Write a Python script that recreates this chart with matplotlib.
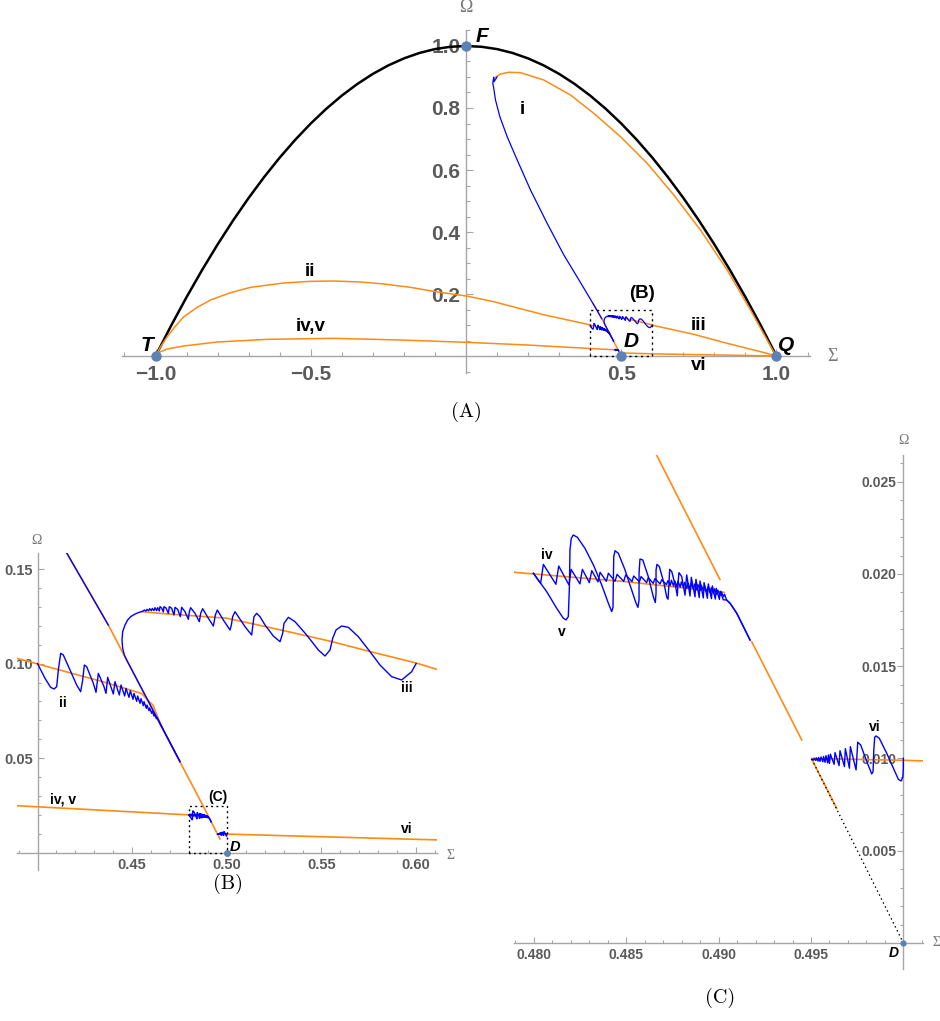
import matplotlib
matplotlib.use("Agg")
import numpy as np
import matplotlib.pyplot as plt

# ---------------- data ----------------
black_sigma = [-1.00, -0.95, -0.90, -0.85, -0.80, -0.75, -0.70, -0.65, -0.60, -0.55, -0.50,
               -0.45, -0.40, -0.35, -0.30, -0.25, -0.20, -0.15, -0.10, -0.05, 0.00,
               0.05, 0.10, 0.15, 0.20, 0.25, 0.30, 0.35, 0.40, 0.45, 0.50,
               0.55, 0.60, 0.65, 0.70, 0.75, 0.80, 0.85, 0.90, 0.95, 1.00]
black_omega = [0.0, 0.0975, 0.19, 0.2775, 0.36, 0.4375, 0.51, 0.5775, 0.64, 0.6975, 0.75,
               0.7975, 0.84, 0.8775, 0.91, 0.9375, 0.96, 0.9775, 0.99, 0.9975, 1.0,
               0.9975, 0.99, 0.9775, 0.96, 0.9375, 0.91, 0.8775, 0.84, 0.7975, 0.75,
               0.6975, 0.64, 0.5775, 0.51, 0.4375, 0.36, 0.2775, 0.19, 0.0975, 0.0]

orange_i = [(0.0950, 0.8990), (0.1111, 0.9097), (0.1379, 0.9152), (0.1755, 0.9140), (0.2506, 0.8903),
            (0.3366, 0.8419), (0.4116, 0.7828), (0.4976, 0.7075), (0.5836, 0.6215), (0.6693, 0.5194),
            (0.7552, 0.4065), (0.8412, 0.2774), (0.9163, 0.1484), (0.9968, 0.0032), (1.0, 0.0)]

orange_ii = [(-1.0, 0.0), (-0.9839, 0.0300), (-0.9623, 0.0623), (-0.9356, 0.0968), (-0.9089, 0.1268),
             (-0.8657, 0.1570), (-0.8229, 0.1806), (-0.7585, 0.2043), (-0.6940, 0.2215), (-0.5868, 0.2355),
             (-0.5008, 0.2409), (-0.4258, 0.2419), (-0.3398, 0.2387), (-0.2647, 0.2323), (-0.1787, 0.2215),
             (-0.1037, 0.2085), (0.0039, 0.1930), (0.0895, 0.1752), (0.2506, 0.1330), (0.3890, 0.1028),
             (0.4001, 0.0998), (0.4374, 0.0896), (0.4550, 0.0842), (0.4610, 0.0780), (0.4655, 0.0668)]

orange_iii = [(0.4550, 0.1275), (0.4628, 0.1267), (0.5000, 0.1240), (0.5280, 0.1179), (0.5552, 0.1117),
              (0.5755, 0.1064), (0.6001, 0.1003), (0.6115, 0.0968), (0.7337, 0.0700), (0.8412, 0.0409),
              (0.9485, 0.0140), (1.0, 0.0)]

orange_iv_v = [(-1.0, 0.0), (-0.9839, 0.0140), (-0.9623, 0.0226), (-0.9089, 0.0323), (-0.8013, 0.0452),
               (-0.6403, 0.0538), (-0.4258, 0.0570), (-0.2110, 0.0516), (0.0039, 0.0441), (0.1971, 0.0355),
               (0.3890, 0.0249), (0.4788, 0.0201), (0.4850, 0.01958), (0.4903, 0.0190)]

orange_vi = [(0.49504, 0.0100), (0.5000, 0.0099), (0.5281, 0.0091), (0.6118, 0.0068), (1.0, 0.0)]

nan = float("nan")
orange_steep = [(0.4100, 0.1679), (0.4153, 0.1587), (0.4374, 0.1204), (0.4646, 0.0683), (0.48665, 0.02642),
                (0.49007, 0.01970), (nan, nan), (0.49179, 0.01633), (0.49450, 0.01100), (nan, nan),
                (0.49504, 0.00996), (0.49639, 0.00730)]

blue_i = [(0.1000, 0.9000), (0.0905, 0.8850), (0.0895, 0.8990), (0.0870, 0.8860), (0.0864, 0.8780),
          (0.0886, 0.8688), (0.0950, 0.8258), (0.1090, 0.7720), (0.1326, 0.7075), (0.1649, 0.6323),
          (0.2077, 0.5355), (0.2614, 0.4280), (0.3150, 0.3260), (0.3688, 0.2370), (0.4153, 0.1587),
          (0.4374, 0.1204)]

blue_ii = [(0.4000, 0.1000), (0.40396, 0.09221), (0.40696, 0.08745), (0.40872, 0.08657), (0.41013, 0.08781),
           (0.41101, 0.09662), (0.41224, 0.10543), (0.41365, 0.10454), (0.41717, 0.09662), (0.42069, 0.08869),
           (0.42280, 0.08516), (0.42386, 0.09133), (0.42474, 0.09926), (0.42597, 0.09838), (0.42950, 0.08957),
           (0.43090, 0.08481), (0.43214, 0.09485), (0.43513, 0.08781), (0.43619, 0.08428), (0.43707, 0.09274),
           (0.44006, 0.08393), (0.44094, 0.09045), (0.44323, 0.08340), (0.44411, 0.08869), (0.44605, 0.08287),
           (0.44675, 0.08693), (0.44834, 0.08217), (0.44904, 0.08569), (0.45045, 0.08111), (0.45098, 0.08428),
           (0.45239, 0.08006), (0.45292, 0.08287), (0.45415, 0.07900), (0.45468, 0.08146), (0.45591, 0.07777),
           (0.45626, 0.07988), (0.45749, 0.07636), (0.45785, 0.07812), (0.45890, 0.07512), (0.45925, 0.07653),
           (0.46031, 0.07371), (0.46066, 0.07495), (0.46154, 0.07230), (0.46190, 0.07318), (0.46278, 0.07089),
           (0.46313, 0.07160), (0.46471, 0.06843), (0.47528, 0.04817)]

blue_iii = [(0.6000, 0.1000), (0.59766, 0.09573), (0.59238, 0.09133), (0.58710, 0.09309), (0.58093, 0.09926),
            (0.57565, 0.10631), (0.56949, 0.11423), (0.56420, 0.11917), (0.56068, 0.11987), (0.55769, 0.11776),
            (0.55593, 0.11335), (0.55452, 0.10719), (0.55188, 0.10402), (0.54836, 0.10719), (0.54219, 0.11512),
            (0.53603, 0.12216), (0.53251, 0.12445), (0.53022, 0.12128), (0.52951, 0.11600), (0.52811, 0.11159),
            (0.52458, 0.11459), (0.52018, 0.12040), (0.51754, 0.12481), (0.51578, 0.12657), (0.51437, 0.12481),
            (0.51367, 0.11952), (0.51314, 0.11512), (0.50962, 0.11952), (0.50609, 0.12481), (0.50433, 0.12745),
            (0.50310, 0.12481), (0.50240, 0.12040), (0.50169, 0.11776), (0.49817, 0.12304), (0.49500, 0.12833),
            (0.49394, 0.12569), (0.49324, 0.12163), (0.49289, 0.11987), (0.48972, 0.12481), (0.48725, 0.12903),
            (0.48620, 0.12657), (0.48549, 0.12216), (0.48320, 0.12657), (0.48091, 0.12956), (0.48021, 0.12745),
            (0.47968, 0.12340), (0.47792, 0.12745), (0.47616, 0.12974), (0.47546, 0.12481), (0.47405, 0.12868),
            (0.47264, 0.12974), (0.47211, 0.12569), (0.47088, 0.12921), (0.46964, 0.13009), (0.46912, 0.12657),
            (0.46788, 0.12939), (0.46683, 0.13009), (0.46647, 0.12727), (0.46559, 0.12939), (0.46471, 0.13009),
            (0.46436, 0.12780), (0.46348, 0.12956), (0.46295, 0.12798), (0.46207, 0.12956), (0.46154, 0.12798),
            (0.46066, 0.12921), (0.46014, 0.12798), (0.45925, 0.12903), (0.45873, 0.12798), (0.45785, 0.12868),
            (0.45732, 0.12780), (0.45644, 0.12833), (0.45556, 0.12762), (0.45415, 0.12727), (0.45151, 0.12621),
            (0.44922, 0.12481), (0.44763, 0.12304), (0.44622, 0.12040), (0.44499, 0.11688), (0.44464, 0.11247),
            (0.44499, 0.10807), (0.44587, 0.10454), (0.44710, 0.10190), (0.44851, 0.09926), (0.47528, 0.04817)]

blue_iv = [(0.47997, 0.02004), (0.48036, 0.01949), (0.48051, 0.02052), (0.48119, 0.01944), (0.48134, 0.02043),
           (0.48190, 0.01940), (0.48201, 0.02025), (0.48249, 0.01946), (0.48262, 0.02025), (0.48300, 0.01953),
           (0.48313, 0.02018), (0.48347, 0.01957), (0.48358, 0.02009), (0.48392, 0.01960), (0.48403, 0.02004),
           (0.48439, 0.01960), (0.48450, 0.01998), (0.48486, 0.01960), (0.48497, 0.01995), (0.48531, 0.01959),
           (0.48540, 0.01989), (0.48571, 0.01957), (0.48580, 0.01986), (0.48610, 0.01953), (0.48619, 0.01980),
           (0.48646, 0.01949), (0.48655, 0.01975), (0.48683, 0.01946), (0.48692, 0.01969), (0.48717, 0.01942),
           (0.48726, 0.01964), (0.48738, 0.01937), (0.48744, 0.01966), (0.48756, 0.01934), (0.48762, 0.01963),
           (0.48774, 0.01931), (0.48780, 0.01960), (0.48792, 0.01928), (0.48798, 0.01957), (0.48810, 0.01925),
           (0.48816, 0.01954), (0.48828, 0.01922), (0.48834, 0.01951), (0.48846, 0.01919), (0.48852, 0.01948),
           (0.48864, 0.01916), (0.48870, 0.01945), (0.48882, 0.01913), (0.48888, 0.01942), (0.48900, 0.01910),
           (0.48906, 0.01939), (0.48918, 0.01906), (0.48924, 0.01935), (0.48936, 0.01902), (0.48942, 0.01930),
           (0.48954, 0.01898), (0.48960, 0.01925), (0.48972, 0.01894), (0.48978, 0.01919), (0.48990, 0.01889),
           (0.48996, 0.01912), (0.49008, 0.01884), (0.49014, 0.01904), (0.49026, 0.01877), (0.49032, 0.01890),
           (0.49043, 0.01859), (0.49062, 0.01841), (0.49098, 0.01787), (0.49170, 0.01642)]

blue_v = [(0.47997, 0.02004), (0.48069, 0.01904), (0.48123, 0.01814), (0.48159, 0.01760), (0.48174, 0.01751),
          (0.48186, 0.01769), (0.48192, 0.01931), (0.48195, 0.02130), (0.48202, 0.02193), (0.48213, 0.02211),
          (0.48235, 0.02199), (0.48276, 0.02139), (0.48322, 0.02049), (0.48367, 0.01940), (0.48403, 0.01841),
          (0.48421, 0.01796), (0.48428, 0.01819), (0.48430, 0.01968), (0.48432, 0.02094), (0.48439, 0.02126),
          (0.48457, 0.02112), (0.48493, 0.02022), (0.48529, 0.01913), (0.48553, 0.01841), (0.48563, 0.01819),
          (0.48569, 0.01859), (0.48569, 0.02004), (0.48574, 0.02081), (0.48589, 0.02076), (0.48619, 0.01986),
          (0.48646, 0.01877), (0.48657, 0.01845), (0.48661, 0.01895), (0.48661, 0.02022), (0.48666, 0.02052),
          (0.48679, 0.02040), (0.48704, 0.01949), (0.48719, 0.01874), (0.48726, 0.01863), (0.48730, 0.01931),
          (0.48735, 0.02025), (0.48746, 0.02013), (0.48767, 0.01931), (0.48776, 0.01881), (0.48780, 0.01949),
          (0.48785, 0.02007), (0.48800, 0.01986), (0.48818, 0.01885), (0.48827, 0.01995), (0.48845, 0.01880),
          (0.48852, 0.01982), (0.48872, 0.01876), (0.48877, 0.01971), (0.48895, 0.01872), (0.48899, 0.01962),
          (0.48917, 0.01870), (0.48921, 0.01953), (0.48939, 0.01868), (0.48944, 0.01946), (0.48961, 0.01866),
          (0.48966, 0.01935), (0.48982, 0.01864), (0.48987, 0.01922), (0.49004, 0.01862), (0.49009, 0.01906),
          (0.49025, 0.01860), (0.49043, 0.01859), (0.49062, 0.01841), (0.49098, 0.01787), (0.49170, 0.01642)]

blue_vi = [(0.49504, 0.00996), (0.49514, 0.00991), (0.49517, 0.01001), (0.49526, 0.00989), (0.49529, 0.01003),
           (0.49538, 0.00986), (0.49541, 0.01005), (0.49549, 0.00984), (0.49554, 0.01008), (0.49564, 0.00982),
           (0.49568, 0.01011), (0.49576, 0.00979), (0.49581, 0.01015), (0.49590, 0.00976), (0.49594, 0.01019),
           (0.49600, 0.00973), (0.49605, 0.01023), (0.49625, 0.00968), (0.49630, 0.01032), (0.49652, 0.00961),
           (0.49657, 0.01042), (0.49681, 0.00956), (0.49686, 0.01053), (0.49708, 0.00947), (0.49713, 0.01064),
           (0.49744, 0.00938), (0.49753, 0.01088), (0.49769, 0.01073), (0.49802, 0.00983), (0.49829, 0.00916),
           (0.49836, 0.00929), (0.49840, 0.01046), (0.49845, 0.01115), (0.49852, 0.01122), (0.49870, 0.01109),
           (0.49910, 0.01028), (0.49950, 0.00938), (0.49973, 0.00887), (0.49988, 0.00878), (0.49997, 0.00898),
           (0.50000, 0.00947), (0.50000, 0.01001)]

dotted_to_D = [(0.49504, 0.00996), (0.5, 0.0)]
box_B = [(0.4, 0.0), (0.4, 0.15), (0.6, 0.15), (0.6, 0.0), (0.4, 0.0)]
box_C = [(0.48, 0.0), (0.48, 0.025), (0.50, 0.025), (0.50, 0.0), (0.48, 0.0)]

point_names = ["T", "F", "Q", "D"]
point_sigma = [-1.0, 0.0, 1.0, 0.5]
point_omega = [0.0, 1.0, 0.0, 0.0]

# tick values / labels
A_xticks = [-1.0, -0.5, 0.5, 1.0]
A_xlabels = ["\u22121.0", "\u22120.5", "0.5", "1.0"]
A_yticks = [0.2, 0.4, 0.6, 0.8, 1.0]
A_ylabels = ["0.2", "0.4", "0.6", "0.8", "1.0"]
B_xticks = [0.45, 0.50, 0.55, 0.60]
B_xlabels = ["0.45", "0.50", "0.55", "0.60"]
B_yticks = [0.05, 0.10, 0.15]
B_ylabels = ["0.05", "0.10", "0.15"]
C_xticks = [0.480, 0.485, 0.490, 0.495]
C_xlabels = ["0.480", "0.485", "0.490", "0.495"]
C_yticks = [0.005, 0.010, 0.015, 0.020, 0.025]
C_ylabels = ["0.005", "0.010", "0.015", "0.020", "0.025"]

# ---------------- style ----------------
ORANGE = "#FF8A14"
BLUE = "#0000FF"
DOT = "#5E81B5"
AXIS_GRAY = "#A6A6A6"
LABEL_GRAY = "#5A5A5A"
SANS = "Liberation Sans"

fig = plt.figure(figsize=(9.4, 10.21), dpi=100)
fig.patch.set_facecolor("white")
W, H = 940.0, 1021.0


def rect_px(x0, y0, x1, y1):
    return [x0 / W, 1 - y1 / H, (x1 - x0) / W, (y1 - y0) / H]


def minors(lo, hi, step, exclude):
    vals = np.round(np.arange(lo, hi + step / 2, step), 6)
    ex = set(np.round(exclude, 6))
    return [v for v in vals if v not in ex]


def setup(ax, xlim, ylim, x0, xt, xl, yt, yl, xmin, ymin, fs, ydir, xpad, ypad, maj, mnr):
    ax.set_xlim(*xlim)
    ax.set_ylim(*ylim)
    ax.patch.set_visible(False)
    for s in ("top", "right"):
        ax.spines[s].set_visible(False)
    ax.spines["left"].set_position(("data", x0))
    ax.spines["bottom"].set_position(("data", 0.0))
    for s in ("left", "bottom"):
        ax.spines[s].set_color(AXIS_GRAY)
        ax.spines[s].set_linewidth(1.0)
        ax.spines[s].set_zorder(1)
    ax.set_xticks(xt)
    ax.set_xticklabels(xl, fontweight="bold", fontsize=fs, family=SANS, color=LABEL_GRAY)
    ax.set_yticks(yt)
    ax.set_yticklabels(yl, fontweight="bold", fontsize=fs, family=SANS, color=LABEL_GRAY)
    ax.set_xticks(xmin, minor=True)
    ax.set_yticks(ymin, minor=True)
    ax.tick_params(axis="x", which="both", direction="in", color=AXIS_GRAY, width=0.8, pad=xpad)
    ax.tick_params(axis="y", which="both", direction=ydir, color=AXIS_GRAY, width=0.8, pad=ypad)
    ax.tick_params(which="major", length=maj)
    ax.tick_params(which="minor", length=mnr)


def draw_all(ax, lw_o, lw_b, lw_k, ms):
    ax.plot(black_sigma, black_omega, color="black", lw=lw_k, zorder=3)
    for pts in (orange_i, orange_ii, orange_iii, orange_iv_v, orange_vi, orange_steep):
        s, o = zip(*pts)
        ax.plot(s, o, color=ORANGE, lw=lw_o, zorder=3)
    for pts in (blue_i, blue_ii, blue_iii, blue_iv, blue_v, blue_vi):
        s, o = zip(*pts)
        ax.plot(s, o, color=BLUE, lw=lw_b, zorder=4)
    ax.plot(point_sigma, point_omega, "o", color=DOT, ms=ms, zorder=6, mec="none")


# ---------------- Panel A ----------------
axA = fig.add_axes(rect_px(122, 30, 810, 373))
setup(axA, (-1.108, 1.108), (-0.0548, 1.0516), 0.0, A_xticks, A_xlabels, A_yticks, A_ylabels,
      minors(-1.1, 1.1, 0.1, A_xticks + [0.0]), minors(-0.05, 1.05, 0.05, A_yticks + [0.0]),
      15, "in", 6.5, 4, 5, 3)
draw_all(axA, 1.1, 0.9, 1.8, 7.5)
s, o = zip(*box_B)
axA.plot(s, o, color="black", lw=1.0, ls=(0, (1.6, 2.6)), zorder=5)
for name, x, y in zip(point_names, [-1.027, 0.052, 1.032, 0.532], [0.035, 1.03, 0.035, 0.046]):
    axA.text(x, y, name, fontsize=15, fontweight="bold", fontstyle="italic", family=SANS,
             ha="center", va="center", zorder=7)
for lab, x, y in (("i", 0.181, 0.794), ("ii", -0.501, 0.272), ("iv,v", -0.501, 0.0945),
                  ("iii", 0.750, 0.100), ("vi", 0.750, -0.029), ("(B)", 0.5675, 0.2023)):
    axA.text(x, y, lab, fontsize=13.5, fontweight="bold", family=SANS, ha="center", va="center", zorder=7)
axA.text(0.0, 1.1226, "\u03a9", fontsize=13, color="#777777", family="Liberation Serif",
         ha="center", va="center", clip_on=False)
axA.text(1.180, 0.0, "\u03a3", fontsize=13, color="#777777", family="Liberation Serif",
         ha="center", va="center", clip_on=False)

# ---------------- Panel B ----------------
axB = fig.add_axes(rect_px(16.7, 553.3, 437.3, 870))
setup(axB, (0.38901, 0.61120), (-0.00909, 0.15830), 0.40, B_xticks, B_xlabels, B_yticks, B_ylabels,
      minors(0.39, 0.61, 0.01, B_xticks + [0.40]), minors(0.01, 0.15, 0.01, B_yticks),
      10.5, "in", 4, 3.5, 4, 2.5)
draw_all(axB, 1.2, 1.0, 1.8, 5)
s, o = zip(*box_C)
axB.plot(s, o, color="black", lw=1.0, ls=(0, (1.4, 2.4)), zorder=5)
for lab, x, y in (("ii", 0.41365, 0.0790), ("iii", 0.59502, 0.0869), ("iv, v", 0.41365, 0.0283),
                  ("vi", 0.59502, 0.0124), ("(C)", 0.49553, 0.0293)):
    axB.text(x, y, lab, fontsize=10, fontweight="bold", family=SANS, ha="center", va="center", zorder=7)
axB.text(0.50433, 0.0032, "D", fontsize=10.5, fontweight="bold", fontstyle="italic", family=SANS,
         ha="center", va="center", zorder=7)
axB.text(0.39958, 0.1653, "\u03a9", fontsize=10, color="#777777", family="Liberation Serif",
         ha="center", va="center", clip_on=False)
axB.text(0.61828, -0.0012, "\u03a3", fontsize=10, color="#777777", family="Liberation Serif",
         ha="center", va="center", clip_on=False)

# ---------------- Panel C ----------------
axC = fig.add_axes(rect_px(514, 455.5, 923.3, 968.6))
setup(axC, (0.47892, 0.50108), (-0.00139, 0.02642), 0.50, C_xticks, C_xlabels, C_yticks, C_ylabels,
      minors(0.479, 0.501, 0.001, C_xticks + [0.500]), minors(0.001, 0.026, 0.001, C_yticks),
      10, "out", 3.5, 0.8, 4, 2.5)
draw_all(axC, 1.2, 1.0, 1.8, 4.5)
s, o = zip(*dotted_to_D)
axC.plot(s, o, color="black", lw=1.0, ls=(0, (1.0, 2.2)), zorder=5)
for lab, x, y in (("iv", 0.48069, 0.02103), ("v", 0.48150, 0.01687), ("vi", 0.49847, 0.01169)):
    axC.text(x, y, lab, fontsize=10, fontweight="bold", family=SANS, ha="center", va="center", zorder=7)
axC.text(0.49946, -0.00054, "D", fontsize=10, fontweight="bold", fontstyle="italic", family=SANS,
         ha="center", va="center", zorder=7, clip_on=False)
axC.text(0.5, 0.02726, "\u03a9", fontsize=10, color="#777777", family="Liberation Serif",
         ha="center", va="center", clip_on=False)
axC.text(0.50181, 0.0, "\u03a3", fontsize=10, color="#777777", family="Liberation Serif",
         ha="center", va="center", clip_on=False)

# ---------------- captions ----------------
for lab, x, y in (("(A)", 466, 412), ("(B)", 228, 884), ("(C)", 720, 998)):
    fig.text(x / W, 1 - y / H, lab, fontsize=14.5, family="cmr10", ha="center", va="center")

fig.savefig("out.png", dpi=100, facecolor="white")
